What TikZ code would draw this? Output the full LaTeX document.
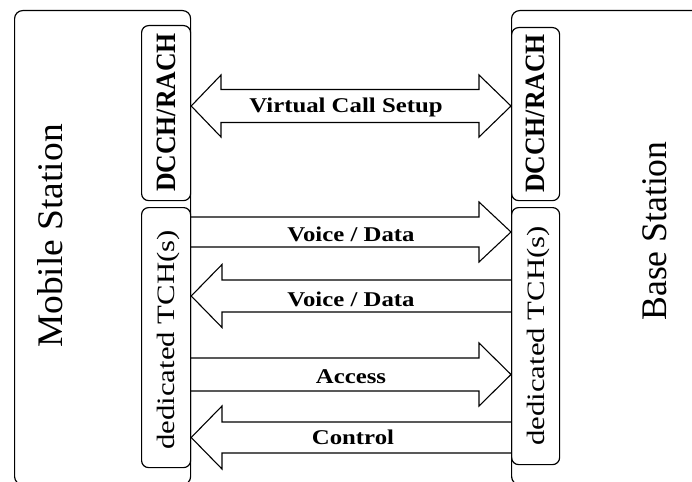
\documentclass[tikz,border=0pt]{standalone}
\usepackage{fontspec}
\setmainfont{Liberation Serif}
\usetikzlibrary{calc}
\begin{document}
\begin{tikzpicture}[x=1pt,y=-1pt,
  box/.style={draw, line width=1.2pt, rounded corners=8pt, inner sep=0pt, anchor=north west},
  chan/.style={draw, line width=1.2pt, rounded corners=7pt, inner sep=0pt, anchor=north west},
  blk/.style={draw, line width=1.1pt, line join=miter},
  lbl/.style={font=\fontsize{21}{21}\selectfont\bfseries, inner sep=0pt, anchor=base},
  vlbl/.style={rotate=90, inner sep=0pt, anchor=base}
]
\useasboundingbox (0,0) rectangle (692,481);
\clip (0,0) rectangle (692,481);
% stations
\node[box, minimum width=176pt, minimum height=474pt] (ms) at (14,10) {};
\node[box, minimum width=200pt, minimum height=474pt] (bs) at (511,10) {};
% channels
\node[chan, minimum width=49pt, minimum height=175pt] (dl) at (141,25) {};
\node[chan, minimum width=49pt, minimum height=260pt] (tl) at (141,207) {};
\node[chan, minimum width=48pt, minimum height=173pt] (dr) at (511,27) {};
\node[chan, minimum width=48pt, minimum height=257pt] (tr) at (511,207) {};
% station labels
\node[vlbl, font=\fontsize{36}{36}\selectfont] (mst) at (62,236) {\scalebox{1.04}[1]{Mobile Station}};
\node[vlbl, font=\fontsize{36}{36}\selectfont] (bst) at (666,231) {\scalebox{0.99}[1]{Base Station}};
% channel labels
\node[vlbl, font=\fontsize{28}{28}\selectfont\bfseries] (dlt) at (175,112.5) {\scalebox{0.92}[1]{DCCH/RACH}};
\node[vlbl, font=\fontsize{28}{28}\selectfont\bfseries] (drt) at (544.5,113.5) {\scalebox{0.92}[1]{DCCH/RACH}};
\node[vlbl, font=\fontsize{25}{25}\selectfont] (tlt) at (174,340) {\scalebox{1.23}[1]{dedicated TCH(s)}};
\node[vlbl, font=\fontsize{25}{25}\selectfont] (trt) at (544,336) {\scalebox{1.23}[1]{dedicated TCH(s)}};
% arrows
\draw[blk] (dl.east |- 0,106) -- (221,75) -- (221,89.5) -- (479,89.5) -- (479,75)
  -- (dr.west |- 0,106) -- (479,137) -- (479,122.5) -- (221,122.5) -- (221,137) -- cycle;
\draw[blk] (tl.east |- 0,217) -- (479,217) -- (479,202) -- (tr.west |- 0,232)
  -- (479,262) -- (479,247) -- (tl.east |- 0,247);
\draw[blk] (tr.west |- 0,280) -- (222,280) -- (222,264.5) -- (tl.east |- 0,296)
  -- (222,327.5) -- (222,312) -- (tr.west |- 0,312);
\draw[blk] (tl.east |- 0,358) -- (479,358) -- (479,343) -- (tr.west |- 0,374.5)
  -- (479,406) -- (479,391) -- (tl.east |- 0,391);
\draw[blk] (tr.west |- 0,422) -- (222,422) -- (222,406) -- (tl.east |- 0,437.5)
  -- (222,469) -- (222,453) -- (tr.west |- 0,453);
% arrow labels
\node[lbl] (a1) at (346,113) {\scalebox{1.18}[1]{Virtual Call Setup}};
\node[lbl] (a2) at (351,241) {\scalebox{1.18}[1]{Voice / Data}};
\node[lbl] (a3) at (351,306) {\scalebox{1.18}[1]{Voice / Data}};
\node[lbl] (a4) at (351,383) {\scalebox{1.18}[1]{Access}};
\node[lbl] (a5) at (353,444) {\scalebox{1.18}[1]{Control}};
\end{tikzpicture}
\end{document}
